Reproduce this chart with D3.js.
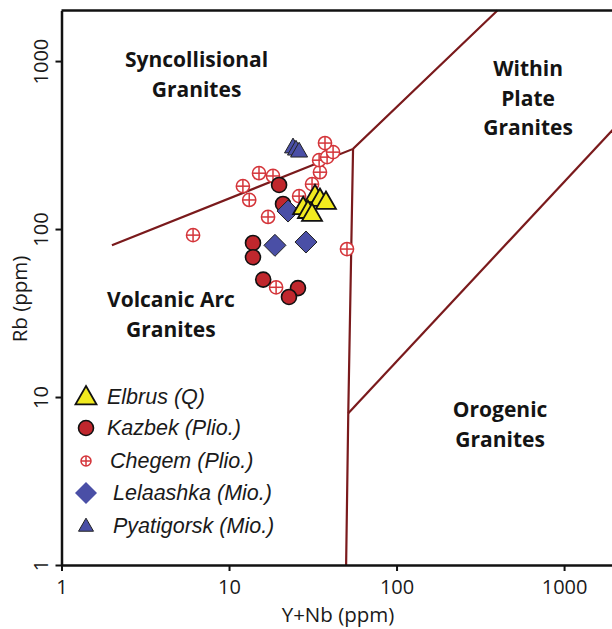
<!DOCTYPE html>
<html>
<head>
<meta charset="utf-8">
<script src="https://cdn.jsdelivr.net/npm/d3@7"></script>
<style>
  body { margin: 0; background: #fff; }
  svg text { font-family: "Open Sans", "Noto Sans", sans-serif; fill: #1a1a1a; }
  .field { font-weight: 700; font-size: 21px; fill: #141414; }
  .tick text { font-size: 20px; }
  .legend text { font-family: "Liberation Sans", Arial, sans-serif; font-style: italic; font-size: 21.5px; }
</style>
</head>
<body>
<svg id="chart" width="612" height="629"></svg>
<script>
// Pearce et al. (1984) Rb vs Y+Nb discrimination diagram

var elbrus = [[32.6, 159], [34.9, 151], [37.9, 145], [27.7, 135], [29.6, 128], [31.3, 123]];
var kazbek = [[19.9, 183], [21.0, 141], [13.9, 82.6], [13.9, 68], [16.0, 50], [25.8, 44.5], [22.8, 39.4]];
var chegem = [[6.1, 92], [12.1, 180], [13.2, 149], [15.1, 215], [18.3, 207], [17.1, 118], [19.1, 45],
              [26.2, 157], [31.3, 185], [34.9, 218], [34.5, 257], [38.5, 268], [41.8, 287], [37.4, 325], [50.6, 76]];
var lelaashka = [[22.5, 128], [18.8, 80], [28.8, 83.7]];
var pyatigorsk = [[24.1, 308], [25.1, 299], [26.2, 291]];

// boundaries between granite fields
var boundaries = [
  [[2, 80], [55, 300], [400, 2000]],
  [[55, 300], [51.5, 8], [50, 1]],
  [[51.5, 8], [2000, 400]]
];

var fields = [
  {lines: ["Syncollisional", "Granites"], x: 6.4, y: 920},
  {lines: ["Within", "Plate", "Granites"], x: 610, y: 814},
  {lines: ["Volcanic Arc", "Granites"], x: 4.5, y: 34.3},
  {lines: ["Orogenic", "Granites"], x: 415, y: 7.6}
];

var xTicks = [1, 10, 100, 1000];
var yTicks = [1, 10, 100, 1000];

(function() {
  var svg = d3.select("svg#chart");
  var mLeft = 61.5, mRight = 614.5, mTop = 10.5, mBottom = 565;

  var x = d3.scaleLog().domain([1, 2000]).range([mLeft, mRight]);
  var y = d3.scaleLog().domain([1, 2000]).range([mBottom, mTop]);

  var line = d3.line()
    .x(function(d) { return x(d[0]); })
    .y(function(d) { return y(d[1]); });

  var lineColor = "#7a1a1c";

  svg.selectAll(".boundary")
    .data(boundaries)
    .enter().append("path")
    .attr("class", "boundary")
    .attr("d", line)
    .attr("fill", "none")
    .attr("stroke", lineColor)
    .attr("stroke-width", 2.2);

  // top frame line
  svg.append("line")
    .attr("x1", mLeft).attr("x2", 612)
    .attr("y1", mTop).attr("y2", mTop)
    .attr("stroke", "#111").attr("stroke-width", 2.5);

  var xAxis = svg.append("g")
    .attr("transform", "translate(0," + mBottom + ")")
    .call(d3.axisBottom(x).tickValues(xTicks).tickFormat(d3.format("d")).tickSizeInner(6).tickSizeOuter(0).tickPadding(9));

  var yAxis = svg.append("g")
    .attr("transform", "translate(" + mLeft + ",0)")
    .call(d3.axisLeft(y).tickValues(yTicks).tickFormat(d3.format("d")).tickSizeInner(6).tickSizeOuter(0));

  yAxis.selectAll(".tick text")
    .attr("transform", "rotate(-90)")
    .attr("x", 0)
    .attr("y", -14)
    .attr("dy", 0)
    .attr("text-anchor", "middle");

  [xAxis, yAxis].forEach(function(a) {
    a.attr("font-family", null).attr("font-size", null);
    a.select(".domain").attr("stroke", "#111").attr("stroke-width", 2.5);
    a.selectAll(".tick line").attr("stroke", "#111").attr("stroke-width", 2);
    a.selectAll(".tick text").attr("fill", "#1a1a1a");
  });

  svg.append("text")
    .attr("x", 338).attr("y", 622)
    .attr("text-anchor", "middle")
    .style("font-size", "20.5px")
    .text("Y+Nb (ppm)");

  svg.append("text")
    .attr("transform", "translate(27,299) rotate(-90)")
    .attr("text-anchor", "middle")
    .style("font-size", "20.5px")
    .text("Rb (ppm)");

  // field names
  fields.forEach(function(f) {
    var t = svg.append("text")
      .attr("class", "field")
      .attr("text-anchor", "middle");
    f.lines.forEach(function(s, i) {
      t.append("tspan")
        .attr("x", x(f.x))
        .attr("y", y(f.y) + i * 29.5)
        .text(s);
    });
  });

  // marker shapes
  var blue = "#4a4fa6", yellow = "#f1ea1f", red = "#c0272d", chegemRed = "#d4353a";

  function triangle(size) {
    var h = size * 0.87;
    return "M0," + (-h * 0.6) + "L" + (size / 2) + "," + (h * 0.4) + "L" + (-size / 2) + "," + (h * 0.4) + "Z";
  }
  function diamond(r) {
    return "M0," + (-r) + "L" + r + ",0L0," + r + "L" + (-r) + ",0Z";
  }

  function drawChegem(g, r) {
    g.append("circle").attr("r", r).attr("fill", "#fff").attr("stroke", chegemRed).attr("stroke-width", 1.5);
    g.append("line").attr("x1", -r).attr("x2", r).attr("stroke", chegemRed).attr("stroke-width", 1.5);
    g.append("line").attr("y1", -r).attr("y2", r).attr("stroke", chegemRed).attr("stroke-width", 1.5);
  }

  function place(d) { return "translate(" + x(d[0]) + "," + y(d[1]) + ")"; }

  svg.selectAll(".chegem")
    .data(chegem)
    .enter().append("g")
    .attr("class", "chegem")
    .attr("transform", place)
    .each(function() { drawChegem(d3.select(this), 6.6); });

  svg.selectAll(".kazbek")
    .data(kazbek)
    .enter().append("circle")
    .attr("class", "kazbek")
    .attr("transform", place)
    .attr("r", 7.5)
    .attr("fill", red)
    .attr("stroke", "#111")
    .attr("stroke-width", 1.6);

  svg.selectAll(".lelaashka")
    .data(lelaashka)
    .enter().append("path")
    .attr("class", "lelaashka")
    .attr("transform", place)
    .attr("d", diamond(11))
    .attr("fill", blue)
    .attr("stroke", "#222")
    .attr("stroke-width", 1);

  svg.selectAll(".elbrus")
    .data(elbrus)
    .enter().append("path")
    .attr("class", "elbrus")
    .attr("transform", place)
    .attr("d", triangle(20))
    .attr("fill", yellow)
    .attr("stroke", "#111")
    .attr("stroke-width", 1.8);

  svg.selectAll(".pyatigorsk")
    .data(pyatigorsk)
    .enter().append("path")
    .attr("class", "pyatigorsk")
    .attr("transform", place)
    .attr("d", triangle(17))
    .attr("fill", blue)
    .attr("stroke", "#222")
    .attr("stroke-width", 1);

  // legend
  var legendNames = ["Elbrus (Q)", "Kazbek (Plio.)", "Chegem (Plio.)", "Lelaashka (Mio.)", "Pyatigorsk (Mio.)"];
  var legendY = [397, 428, 461, 493, 526];
  var legendTextX = [107, 107, 110, 113, 113];

  var legend = svg.append("g").attr("class", "legend");
  legendNames.forEach(function(name, i) {
    var g = legend.append("g").attr("transform", "translate(86," + legendY[i] + ")");
    if (i === 0) g.append("path").attr("d", triangle(21)).attr("fill", yellow).attr("stroke", "#111").attr("stroke-width", 1.8);
    if (i === 1) g.append("circle").attr("r", 7.5).attr("fill", red).attr("stroke", "#111").attr("stroke-width", 1.6);
    if (i === 2) drawChegem(g, 5);
    if (i === 3) g.append("path").attr("d", diamond(11)).attr("fill", blue);
    if (i === 4) g.append("path").attr("d", triangle(15)).attr("fill", blue).attr("stroke", "#222").attr("stroke-width", 1);
    legend.append("text")
      .attr("x", legendTextX[i])
      .attr("y", legendY[i] + 7)
      .text(name);
  });
})();
</script>
</body>
</html>
